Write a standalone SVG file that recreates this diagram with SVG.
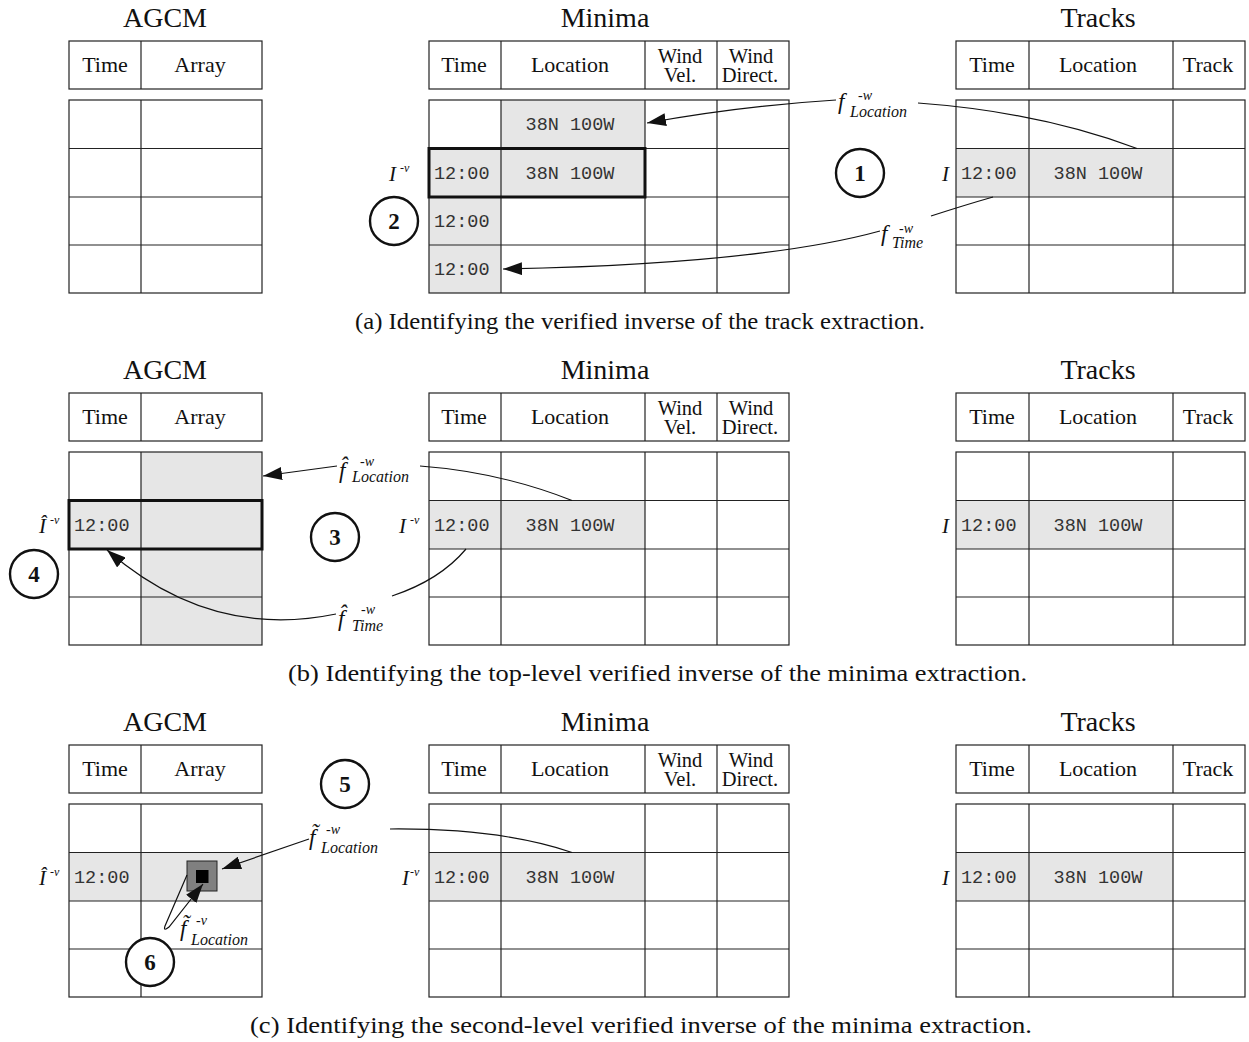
<svg xmlns="http://www.w3.org/2000/svg" width="1249" height="1042" viewBox="0 0 1249 1042">
<style>
.t{font-family:"Liberation Serif","Times New Roman",serif;fill:#111}
.title{font-size:28px;text-anchor:middle}
.hd{font-size:22px;text-anchor:middle}
.hd2{font-size:20.5px;text-anchor:middle}
.mono{font-family:"Liberation Mono","Courier New",monospace;font-size:18.5px;fill:#333}
.mid{text-anchor:middle}
.it{font-style:italic}
.cap{font-size:22.5px}
.num{font-size:23px;font-weight:bold;text-anchor:middle}
.grid{fill:none;stroke:#222;stroke-width:1.2}
.gray{fill:#e6e6e6}
.thick{fill:none;stroke:#111;stroke-width:3}
.conn{fill:none;stroke:#111;stroke-width:1.2}
.circ{fill:#fff;stroke:#111;stroke-width:2.4}
.fs{font-size:23px}
.sup{font-size:14px}
.sub{font-size:16px}
.lbl{font-size:21px}
.lsup{font-size:12px}
</style>
<defs>
<marker id="arr" markerUnits="userSpaceOnUse" markerWidth="19" markerHeight="13" viewBox="0 0 19 13" refX="19" refY="6.5" orient="auto">
<path d="M0,0 L19,6.5 L0,13 z" fill="#111"/>
</marker>
<g id="agcmGrid">
<rect class="grid" x="69" y="41" width="193" height="48"/>
<line class="grid" x1="141" y1="41" x2="141" y2="89"/>
<rect class="grid" x="69" y="100" width="193" height="193"/>
<line class="grid" x1="141" y1="100" x2="141" y2="293"/>
<line class="grid" x1="69" y1="148.5" x2="262" y2="148.5"/>
<line class="grid" x1="69" y1="197" x2="262" y2="197"/>
<line class="grid" x1="69" y1="245" x2="262" y2="245"/>
</g>
<g id="minGrid">
<rect class="grid" x="429" y="41" width="360" height="48"/>
<line class="grid" x1="501" y1="41" x2="501" y2="89"/>
<line class="grid" x1="645" y1="41" x2="645" y2="89"/>
<line class="grid" x1="717" y1="41" x2="717" y2="89"/>
<rect class="grid" x="429" y="100" width="360" height="193"/>
<line class="grid" x1="501" y1="100" x2="501" y2="293"/>
<line class="grid" x1="645" y1="100" x2="645" y2="293"/>
<line class="grid" x1="717" y1="100" x2="717" y2="293"/>
<line class="grid" x1="429" y1="148.5" x2="789" y2="148.5"/>
<line class="grid" x1="429" y1="197" x2="789" y2="197"/>
<line class="grid" x1="429" y1="245" x2="789" y2="245"/>
</g>
<g id="trkGrid">
<rect class="grid" x="956" y="41" width="289" height="48"/>
<line class="grid" x1="1029" y1="41" x2="1029" y2="89"/>
<line class="grid" x1="1173" y1="41" x2="1173" y2="89"/>
<rect class="grid" x="956" y="100" width="289" height="193"/>
<line class="grid" x1="1029" y1="100" x2="1029" y2="293"/>
<line class="grid" x1="1173" y1="100" x2="1173" y2="293"/>
<line class="grid" x1="956" y1="148.5" x2="1245" y2="148.5"/>
<line class="grid" x1="956" y1="197" x2="1245" y2="197"/>
<line class="grid" x1="956" y1="245" x2="1245" y2="245"/>
</g>
<g id="heads">
<text class="t title" x="165" y="27">AGCM</text>
<text class="t hd" x="105" y="72">Time</text>
<text class="t hd" x="200" y="72">Array</text>
<text class="t title" x="605" y="27">Minima</text>
<text class="t hd" x="464" y="72">Time</text>
<text class="t hd" x="570" y="72">Location</text>
<text class="t hd2" x="680" y="63">Wind</text>
<text class="t hd2" x="680" y="82">Vel.</text>
<text class="t hd2" x="751" y="63">Wind</text>
<text class="t hd2" x="750" y="82">Direct.</text>
<text class="t title" x="1098" y="27">Tracks</text>
<text class="t hd" x="992" y="72">Time</text>
<text class="t hd" x="1098" y="72">Location</text>
<text class="t hd" x="1208" y="72">Track</text>
</g>
</defs>

<!-- Panel (a) -->
<g id="panel-a">
<g id="a-agcm"><use href="#agcmGrid"/></g>
<g id="a-minima">
<rect class="gray" x="501" y="100" width="144" height="48.5"/>
<rect class="gray" x="429" y="148.5" width="216" height="48.5"/>
<rect class="gray" x="429" y="197" width="72" height="96"/>
<use href="#minGrid"/>
<rect class="thick" x="429" y="148.5" width="216" height="48.5"/>
<text class="mono mid" x="570" y="130">38N 100W</text>
<text class="mono" x="434" y="179">12:00</text>
<text class="mono mid" x="570" y="179">38N 100W</text>
<text class="mono" x="434" y="227">12:00</text>
<text class="mono" x="434" y="275">12:00</text>
<text class="t it lbl" x="389" y="181">I<tspan class="lsup" dx="4" dy="-9">-v</tspan></text>
</g>
<g id="a-tracks">
<rect class="gray" x="956" y="148.5" width="217" height="48.5"/>
<use href="#trkGrid"/>
<text class="mono" x="961" y="179">12:00</text>
<text class="mono mid" x="1098" y="179">38N 100W</text>
<text class="t it lbl" x="942" y="181">I</text>
</g>
<use href="#heads"/>
<g id="a-labels">
<text class="t it fs" x="838" y="109">f<tspan class="sup" x="858" dy="-9">-w</tspan><tspan class="sub" x="850" dy="17">Location</tspan></text>
<text class="t it fs" x="881" y="241">f<tspan class="sup" x="899" dy="-8">-w</tspan><tspan class="sub" x="892" dy="15">Time</tspan></text>
</g>
<g id="a-connectors">
<path class="conn" d="M1137,148.5 Q1040,112 918,103"/>
<path class="conn" d="M836,100 Q740,106 647,123" marker-end="url(#arr)"/>
<path class="conn" d="M993,197 Q965,205 931,216"/>
<path class="conn" d="M880,231 Q760,264 503,269" marker-end="url(#arr)"/>
</g>
<g id="a-step1"><circle class="circ" cx="860" cy="173" r="24"/><text class="t num" x="860" y="181">1</text></g>
<g id="a-step2"><circle class="circ" cx="394" cy="221" r="24"/><text class="t num" x="394" y="229">2</text></g>
<text class="t cap" x="355" y="329" textLength="570" lengthAdjust="spacingAndGlyphs">(a) Identifying the verified inverse of the track extraction.</text>
</g>

<!-- Panel (b) -->
<g id="panel-b" transform="translate(0,352)">
<g id="b-agcm">
<rect class="gray" x="141" y="100" width="121" height="193"/>
<rect class="gray" x="69" y="148.5" width="72" height="48.5"/>
<use href="#agcmGrid"/>
<rect class="thick" x="69" y="148.5" width="193" height="48.5"/>
<text class="mono" x="74" y="179">12:00</text>
<text class="t it lbl" x="39" y="181">Î<tspan class="lsup" dx="4" dy="-9">-v</tspan></text>
</g>
<g id="b-minima">
<rect class="gray" x="429" y="148.5" width="216" height="48.5"/>
<use href="#minGrid"/>
<text class="mono" x="434" y="179">12:00</text>
<text class="mono mid" x="570" y="179">38N 100W</text>
<text class="t it lbl" x="399" y="181">I<tspan class="lsup" dx="4" dy="-9">-v</tspan></text>
</g>
<g id="b-tracks">
<rect class="gray" x="956" y="148.5" width="217" height="48.5"/>
<use href="#trkGrid"/>
<text class="mono" x="961" y="179">12:00</text>
<text class="mono mid" x="1098" y="179">38N 100W</text>
<text class="t it lbl" x="942" y="181">I</text>
</g>
<use href="#heads"/>
<g id="b-labels">
<text class="t it fs" x="339" y="126">f̂<tspan class="sup" x="360" dy="-12">-w</tspan><tspan class="sub" x="352" dy="16">Location</tspan></text>
<text class="t it fs" x="338" y="274">f̂<tspan class="sup" x="361" dy="-12">-w</tspan><tspan class="sub" x="352" dy="17">Time</tspan></text>
</g>
<g id="b-connectors">
<path class="conn" d="M420,114 Q500,120 572,148.5"/>
<path class="conn" d="M337,114 L263,124" marker-end="url(#arr)"/>
<path class="conn" d="M466,197 Q440,228 392,244"/>
<path class="conn" d="M336,262 Q210,288 107,198" marker-end="url(#arr)"/>
</g>
<g id="b-step3"><circle class="circ" cx="335" cy="185" r="24"/><text class="t num" x="335" y="193">3</text></g>
<g id="b-step4"><circle class="circ" cx="34" cy="222" r="24"/><text class="t num" x="34" y="230">4</text></g>
<text class="t cap" x="288" y="329" textLength="739" lengthAdjust="spacingAndGlyphs">(b) Identifying the top-level verified inverse of the minima extraction.</text>
</g>

<!-- Panel (c) -->
<g id="panel-c" transform="translate(0,704)">
<g id="c-agcm">
<rect class="gray" x="69" y="148.5" width="193" height="48.5"/>
<use href="#agcmGrid"/>
<rect x="187" y="157" width="30" height="30" fill="#808080" stroke="#222" stroke-width="1"/>
<rect x="196" y="166" width="12.5" height="13" fill="#000"/>
<text class="mono" x="74" y="179">12:00</text>
<text class="t it lbl" x="39" y="181">Î<tspan class="lsup" dx="4" dy="-9">-v</tspan></text>
</g>
<g id="c-minima">
<rect class="gray" x="429" y="148.5" width="216" height="48.5"/>
<use href="#minGrid"/>
<text class="mono" x="434" y="179">12:00</text>
<text class="mono mid" x="570" y="179">38N 100W</text>
<text class="t it lbl" x="402" y="181">I<tspan class="lsup" dx="1" dy="-9">-v</tspan></text>
</g>
<g id="c-tracks">
<rect class="gray" x="956" y="148.5" width="217" height="48.5"/>
<use href="#trkGrid"/>
<text class="mono" x="961" y="179">12:00</text>
<text class="mono mid" x="1098" y="179">38N 100W</text>
<text class="t it lbl" x="942" y="181">I</text>
</g>
<use href="#heads"/>
<g id="c-labels">
<text class="t it fs" x="309" y="141">f̃<tspan class="sup" x="326" dy="-11">-w</tspan><tspan class="sub" x="321" dy="19">Location</tspan></text>
<text class="t it fs" x="180" y="232">f̃<tspan class="sup" x="196" dy="-11">-v</tspan><tspan class="sub" x="191" dy="20">Location</tspan></text>
</g>
<g id="c-connectors">
<path class="conn" d="M390,125 Q500,124 572,148.5"/>
<path class="conn" d="M309,135 L222,165" marker-end="url(#arr)"/>
<path class="conn" d="M187,171 L165,222 Q163,228 169,223 L203,180" marker-end="url(#arr)"/>
</g>
<g id="c-step5"><circle class="circ" cx="345" cy="80" r="24"/><text class="t num" x="345" y="88">5</text></g>
<g id="c-step6"><circle class="circ" cx="150" cy="258" r="24"/><text class="t num" x="150" y="266">6</text></g>
<text class="t cap" x="250" y="329" textLength="782" lengthAdjust="spacingAndGlyphs">(c) Identifying the second-level verified inverse of the minima extraction.</text>
</g>
</svg>
